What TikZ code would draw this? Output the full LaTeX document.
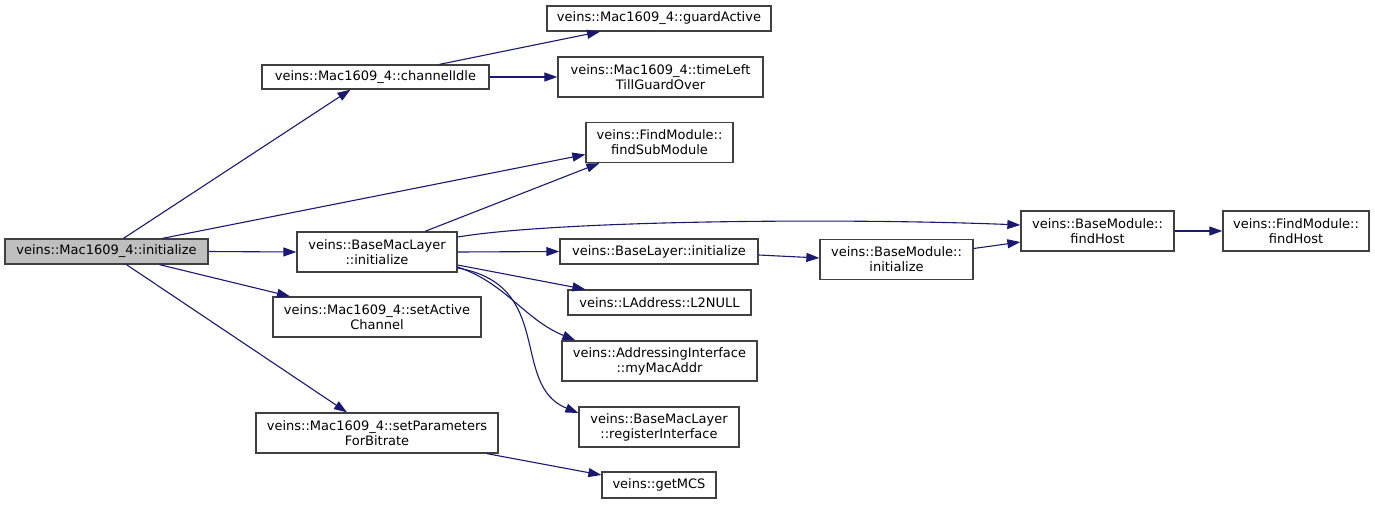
\documentclass[tikz,border=0pt]{standalone}
\usepackage{fontspec}
\setmainfont{DejaVu Sans}
\usetikzlibrary{arrows.meta, positioning}
\definecolor{edgeblue}{HTML}{191970}
\definecolor{boxgray}{HTML}{404040}
\definecolor{mainfill}{HTML}{BFBFBF}

\begin{document}
\begin{tikzpicture}[x=1pt, y=-1pt,
    fn/.style={draw=boxgray, fill=white, line width=1.3pt, inner sep=0pt, align=center,
      font=\fontsize{13}{15}\selectfont, minimum height=40pt},
    fnline/.style={fn, minimum height=25pt},
    call/.style={draw=edgeblue, line width=1.1pt, -{Triangle[length=13pt, width=9pt]}}]
        \useasboundingbox (0,0) rectangle (1375,504);

        % 1. 入口函数
        \node[fnline, fill=mainfill, minimum width=203pt] (init) at (106.5,251.5) {veins::Mac1609\_4::initialize};

        % 2. 第一层调用
        \node[fnline, minimum width=227pt, minimum height=24pt] (idle) at (375.5,77) {veins::Mac1609\_4::channelIdle};
        \node[fn, minimum width=160pt] (bml) at (377,252) {veins::BaseMacLayer\\::initialize};
        \node[fn, minimum width=208pt] (sac) at (377,317) {veins::Mac1609\_4::setActive\\Channel};
        \node[fn, minimum width=242pt] (spb) at (377,433) {veins::Mac1609\_4::setParameters\\ForBitrate};

        % 3. 第二层调用
        \node[fnline, minimum width=224pt] (ga) at (659,18.5) {veins::Mac1609\_4::guardActive};
        \node[fn, minimum width=205pt] (tl) at (660.5,77) {veins::Mac1609\_4::timeLeft\\TillGuardOver};
        \node[fn, minimum width=147pt] (fsm) at (659.5,142.5) {veins::FindModule::\\findSubModule};
        \node[fnline, minimum width=198pt] (bli) at (659,251.5) {veins::BaseLayer::initialize};
        \node[fnline, minimum width=183pt] (l2) at (659.5,302.5) {veins::LAddress::L2NULL};
        \node[fn, minimum width=195pt] (mma) at (659.5,361) {veins::AddressingInterface\\::myMacAddr};
        \node[fn, minimum width=160pt] (ri) at (659,427) {veins::BaseMacLayer\\::registerInterface};
        \node[fnline, minimum width=114pt, minimum height=26pt] (mcs) at (659,485) {veins::getMCS};

        % 4. 右侧模块
        \node[fn, minimum width=153pt] (bmi) at (896.5,259.5) {veins::BaseModule::\\initialize};
        \node[fn, minimum width=153pt] (bfh) at (1097.5,231) {veins::BaseModule::\\findHost};
        \node[fn, minimum width=146pt] (fmh) at (1296,231) {veins::FindModule::\\findHost};

        % 调用关系
        \draw[call] ([xshift=17pt]init.north) -- ([xshift=-25pt]idle.south);
        \draw[call] ([xshift=56pt]init.north) -- ([yshift=-12pt]fsm.west);
        \draw[call] (init.east) -- (bml.west);
        \draw[call] ([xshift=53pt]init.south) -- ([xshift=-87pt]sac.north);
        \draw[call] ([xshift=20pt]init.south) -- ([xshift=-30pt]spb.north);

        \draw[call] ([xshift=64pt]idle.north) -- ([xshift=-59pt]ga.south);
        \draw[call] (idle.east) -- (tl.west);

        \draw[call] ([xshift=48pt]bml.north) -- ([xshift=14pt]fsm.south west);
        \draw[call] ([yshift=15pt]bml.east) .. controls +(103,-17) and +(-171,-7) .. ([yshift=6pt]bfh.west);
        \draw[call] (bml.east) -- (bli.west);
        \draw[call] ([yshift=-13pt]bml.east) -- ([xshift=18pt]l2.north west);
        \draw[call] ([yshift=-15pt]bml.east) .. controls +(48,16) and +(-51,-21) .. ([xshift=14pt]mma.north west);
        \draw[call] ([yshift=-16pt]bml.east) .. controls +(98,17) and +(-69,-28) .. ([yshift=14pt]ri.west);

        \draw[call] ([xshift=110pt]spb.south) -- ([yshift=10pt]mcs.west);

        \draw[call] ([yshift=-3.5pt]bli.east) -- ([yshift=1.5pt]bmi.west);
        \draw[call] ([yshift=11pt]bmi.east) -- ([yshift=-11pt]bfh.west);
        \draw[call] (bfh.east) -- (fmh.west);
\end{tikzpicture}
\end{document}
